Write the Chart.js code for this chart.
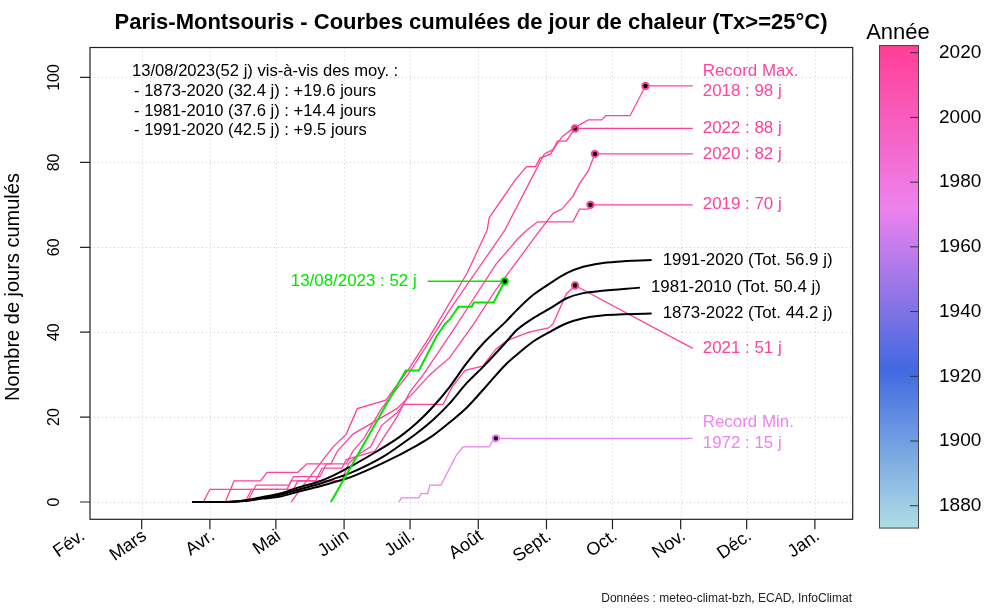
<!DOCTYPE html>
<html>
<head>
<meta charset="utf-8">
<script src="https://cdn.jsdelivr.net/npm/chart.js@4/dist/chart.umd.min.js"></script>
<style>
  body { margin: 0; background: #fff; }
  #wrap { width: 1000px; height: 611px; }
</style>
</head>
<body>
<div id="wrap"><canvas id="chart"></canvas></div>
<script>
// month starts as day of year (0 = 1 Jan)
var monthDays = [31, 59, 90, 120, 151, 181, 212, 243, 273, 304, 334, 365];
var monthLabels = ['Fév.', 'Mars', 'Avr.', 'Mai', 'Juin', 'Juil.', 'Août', 'Sept.', 'Oct.', 'Nov.', 'Déc.', 'Jan.'];
var yTicks = [0, 20, 40, 60, 80, 100];
var legendYears = [1880, 1900, 1920, 1940, 1960, 1980, 2000, 2020];

// cumulated hot days [day of year, count]
var year2018 = [[107,0],[111,4],[126,4],[128,6],[140,6],[143,9],[152,9],[155,12],[160,15],[168,22],[180,30],[190,38],[200,46],[212,55],[224,64],[232,72],[240,80],[242,82],[246,83],[250,86],[255,88],[262,90],[268,90],[270,91],[281,91],[288,98]];
var year2019 = [[106,0],[109,3],[125,3],[127,5],[138,5],[141,8],[150,8],[152,10],[165,12],[170,16],[175,20],[181,26],[187,30],[200,40],[210,48],[220,56],[230,62],[234,64],[239,66],[255,66],[258,69],[262,69],[263,70]];
var year2020 = [[97,0],[101,5],[113,5],[116,7],[130,7],[134,9],[145,9],[148,12],[155,16],[165,19],[175,22],[183,26],[190,30],[199,34],[210,42],[220,50],[230,57],[240,64],[246,68],[250,69],[255,72],[258,75],[262,78],[265,82]];
var year2021 = [[87,0],[90,3],[128,3],[130,5],[150,5],[153,9],[157,11],[163,13],[168,18],[175,21],[178,23],[196,23],[200,27],[206,31],[214,32],[220,36],[225,38],[235,40],[244,41],[246,42],[252,49],[254,50],[256,51]];
var year2022 = [[127,0],[131,3],[140,9],[146,13],[152,16],[157,22],[170,24],[180,31],[190,39],[207,54],[216,64],[217,67],[229,76],[234,79],[238,79],[240,81],[245,82],[248,85],[252,85],[256,88]];
var year1972 = [[176,0],[177,1],[185,1],[186,2],[189,2],[190,4],[195,4],[202,11],[205,13],[217,13],[218,14],[220,15]];
var year2023 = [[145,0],[179,31],[185,31],[191,37],[193,39],[197,42],[199,43],[203,46],[209,46],[210,47],[219,47],[224,52]];

// mean curves
var mean1991 = [[82,0],[97,0],[107,0.5],[114,1.2],[122,2.0],[130,3.4],[140,4.9],[146,6.2],[153.7,8.3],[165.8,11.9],[176.4,15.4],[184,18.6],[191.5,22.5],[199.1,27.2],[206.7,32.7],[214.3,37.4],[224.5,42.5],[229.5,45.2],[237,48.8],[244.6,51.5],[252.2,53.9],[259.7,55.4],[267.3,56.2],[274.9,56.6],[290.8,57.0]];
var mean1981 = [[82,0],[97,0],[107,0.4],[114,1.0],[122,1.7],[130,2.9],[140,4.3],[146,5.4],[153.7,6.8],[168.8,10.7],[177.9,13.9],[184,16.2],[191.5,19.4],[199.1,23.3],[206.7,28],[214.3,31.9],[224.5,37.6],[229.5,40.5],[237,43.3],[244.6,45.6],[252.2,48],[259.7,49.2],[267.3,49.7],[285.5,50.5]];
var mean1873 = [[82,0],[97,0],[107,0.3],[114,0.8],[122,1.3],[130,2.4],[140,3.7],[146,4.6],[153.7,5.8],[168.8,9.2],[184,13.3],[191.5,15.7],[199.1,18.8],[206.7,22.2],[214.3,26.5],[224.5,32.4],[229.5,34.7],[237,37.8],[244.6,40.1],[252.2,42.1],[259.7,43.3],[267.3,43.9],[290.8,44.4]];

var labelDay = 309.5;   // where the label leaders end

var colorStops = [[1873, [174, 222, 228]], [1922, [65, 105, 225]], [1972, [238, 130, 238]], [2023, [255, 62, 150]]];
function yearColor(yr) {
  for (var i = 1; i < colorStops.length; i++) {
    if (yr <= colorStops[i][0]) {
      var a = colorStops[i - 1], b = colorStops[i];
      var t = (yr - a[0]) / (b[0] - a[0]);
      var c = a[1].map(function (v, k) { return Math.round(v + (b[1][k] - v) * t); });
      return 'rgb(' + c.join(',') + ')';
    }
  }
  return 'rgb(255,62,150)';
}

var GREEN = 'rgb(0,230,0)';
var FONT = '"Liberation Sans", Arial, sans-serif';

function toXY(arr) { return arr.map(function (p) { return {x: p[0], y: p[1]}; }); }

function yearSet(arr, color, order) {
  var last = arr.length - 1;
  return {
    data: toXY(arr), borderColor: color, borderWidth: 1.3, order: order,
    pointRadius: function (c) { return c.dataIndex === last ? 3.2 : 0; },
    pointBackgroundColor: '#000', pointBorderColor: color, pointBorderWidth: 2
  };
}
function leader(arr, toY, color, order) {
  var p = arr[arr.length - 1];
  return {data: [{x: p[0], y: p[1]}, {x: labelDay, y: toY}], borderColor: color, borderWidth: 1.3, pointRadius: 0, order: order};
}
function meanSet(arr) {
  return {data: toXY(arr), borderColor: '#000', borderWidth: 2, pointRadius: 0, cubicInterpolationMode: 'monotone', order: 2};
}

var years = [[year2018, 2018], [year2019, 2019], [year2020, 2020], [year2021, 2021], [year2022, 2022], [year1972, 1972]];
var datasets = [];
years.forEach(function (y) {
  var col = yearColor(y[1]);
  datasets.push(yearSet(y[0], col, 5));
  datasets.push(leader(y[0], y[1] === 2021 ? 36.2 : y[0][y[0].length - 1][1], col, 5));
});
datasets.push(meanSet(mean1991), meanSet(mean1981), meanSet(mean1873));
var g = yearSet(year2023, GREEN, 1);
g.borderWidth = 2;
datasets.push(g);
datasets.push({data: [{x: 224, y: 52}, {x: 189, y: 52}], borderColor: GREEN, borderWidth: 1.5, pointRadius: 0, order: 1});

function txt(ctx, s, x, y, font, color, align) {
  ctx.font = font; ctx.fillStyle = color; ctx.textAlign = align || 'left'; ctx.textBaseline = 'middle';
  ctx.fillText(s, x, y);
}

var decor = {
  id: 'decor',
  beforeDatasetsDraw: function (chart) {
    var ctx = chart.ctx, a = chart.chartArea, x = chart.scales.x, y = chart.scales.y;
    ctx.save();
    ctx.strokeStyle = '#cccccc'; ctx.lineWidth = 1; ctx.setLineDash([1, 3]);
    monthDays.forEach(function (d) {
      var px = Math.round(x.getPixelForValue(d)) + 0.5;
      if (px <= a.left || px >= a.right) return;
      ctx.beginPath(); ctx.moveTo(px, a.top); ctx.lineTo(px, a.bottom); ctx.stroke();
    });
    yTicks.forEach(function (v) {
      var py = Math.round(y.getPixelForValue(v)) + 0.5;
      ctx.beginPath(); ctx.moveTo(a.left, py); ctx.lineTo(a.right, py); ctx.stroke();
    });
    ctx.restore();
  },
  afterDraw: function (chart) {
    var ctx = chart.ctx, a = chart.chartArea, x = chart.scales.x, y = chart.scales.y;
    ctx.save();
    // box and ticks
    ctx.strokeStyle = '#222'; ctx.lineWidth = 1.2;
    ctx.strokeRect(a.left, a.top, a.right - a.left, a.bottom - a.top);
    ctx.beginPath();
    monthDays.forEach(function (d) {
      var px = x.getPixelForValue(d);
      if (px < a.left || px > a.right) return;
      ctx.moveTo(px, a.bottom); ctx.lineTo(px, a.bottom + 10);
    });
    yTicks.forEach(function (v) {
      var py = y.getPixelForValue(v);
      ctx.moveTo(a.left, py); ctx.lineTo(a.left - 10, py);
    });
    ctx.stroke();

    // tick labels
    monthDays.forEach(function (d, i) {
      var px = x.getPixelForValue(d);
      ctx.save();
      ctx.translate(px + 3, a.bottom + 15);
      ctx.rotate(-35 * Math.PI / 180);
      txt(ctx, monthLabels[i], 0, 0, '18px ' + FONT, '#000', 'right');
      ctx.restore();
    });
    yTicks.forEach(function (v) {
      ctx.save();
      ctx.translate(55, y.getPixelForValue(v));
      ctx.rotate(-Math.PI / 2);
      txt(ctx, String(v), 0, 0, '16px ' + FONT, '#000', 'center');
      ctx.restore();
    });
    ctx.save();
    ctx.translate(13, 287);
    ctx.rotate(-Math.PI / 2);
    txt(ctx, 'Nombre de jours cumulés', 0, 0, '20px ' + FONT, '#000', 'center');
    ctx.restore();

    // title and source
    txt(ctx, 'Paris-Montsouris - Courbes cumulées de jour de chaleur (Tx>=25°C)', 471, 23, 'bold 22px ' + FONT, '#000', 'center');
    txt(ctx, 'Données : meteo-climat-bzh, ECAD, InfoClimat', 852, 599, '12px ' + FONT, '#222', 'right');

    // summary block
    var f = '16.6px ' + FONT;
    txt(ctx, '13/08/2023(52 j) vis-à-vis des moy. :', 132, 71, f, '#000');
    txt(ctx, '- 1873-2020 (32.4 j) : +19.6 jours', 134, 91, f, '#000');
    txt(ctx, '- 1981-2010 (37.6 j) : +14.4 jours', 134, 111, f, '#000');
    txt(ctx, '- 1991-2020 (42.5 j) : +9.5 jours', 134, 130, f, '#000');

    // labels at the end of the leaders
    var fl = '16.9px ' + FONT;
    var lx = x.getPixelForValue(labelDay) + 10;
    var pink = yearColor(2018);
    txt(ctx, 'Record Max.', lx, y.getPixelForValue(98) - 15, fl, pink);
    txt(ctx, '2018 : 98 j', lx, y.getPixelForValue(98) + 5, fl, pink);
    txt(ctx, '2022 : 88 j', lx, y.getPixelForValue(88), fl, yearColor(2022));
    txt(ctx, '2020 : 82 j', lx, y.getPixelForValue(82), fl, yearColor(2020));
    txt(ctx, '2019 : 70 j', lx, y.getPixelForValue(70), fl, yearColor(2019));
    txt(ctx, '2021 : 51 j', lx, y.getPixelForValue(36.2), fl, yearColor(2021));
    var vio = yearColor(1972);
    txt(ctx, 'Record Min.', lx, y.getPixelForValue(15) - 16, fl, vio);
    txt(ctx, '1972 : 15 j', lx, y.getPixelForValue(15) + 5, fl, vio);
    txt(ctx, '13/08/2023 : 52 j', x.getPixelForValue(189) - 11, y.getPixelForValue(52), fl, GREEN, 'right');
    [[mean1991, '1991-2020 (Tot. 56.9 j)'], [mean1981, '1981-2010 (Tot. 50.4 j)'], [mean1873, '1873-2022 (Tot. 44.2 j)']].forEach(function (m) {
      var p = m[0][m[0].length - 1];
      txt(ctx, m[1], x.getPixelForValue(p[0]) + 11, y.getPixelForValue(p[1]), fl, '#000');
    });

    // colour bar
    var cbL = 879, cbR = 918;
    function yrY(yr) { return 52.7 + (2020 - yr) * 3.236; }
    var top = yrY(2022.2), bot = yrY(1873.1);
    var grad = ctx.createLinearGradient(0, bot, 0, top);
    colorStops.forEach(function (s) {
      var t = Math.min(1, Math.max(0, (s[0] - 1873.1) / (2022.2 - 1873.1)));
      grad.addColorStop(t, 'rgb(' + s[1].join(',') + ')');
    });
    ctx.fillStyle = grad;
    ctx.fillRect(cbL, top, cbR - cbL, bot - top);
    ctx.strokeStyle = '#444'; ctx.lineWidth = 1;
    ctx.strokeRect(cbL + 0.5, top, cbR - cbL, bot - top);
    ctx.beginPath();
    legendYears.forEach(function (yr) {
      ctx.moveTo(cbR - 8, yrY(yr)); ctx.lineTo(cbR, yrY(yr));
    });
    ctx.strokeStyle = '#333'; ctx.stroke();
    legendYears.forEach(function (yr) {
      txt(ctx, String(yr), 939, yrY(yr), '19px ' + FONT, '#000');
    });
    txt(ctx, 'Année', 898, 33, '22px ' + FONT, '#000', 'center');
    ctx.restore();
  }
};

new Chart(document.getElementById('chart'), {
  type: 'line',
  data: {datasets: datasets},
  options: {
    responsive: true,
    maintainAspectRatio: false,
    animation: false,
    layout: {padding: {left: 90, top: 47.5, right: 147.3, bottom: 91.7}},
    plugins: {legend: {display: false}, tooltip: {enabled: false}},
    scales: {
      x: {type: 'linear', display: false, min: 35.5, max: 382.2},
      y: {type: 'linear', display: false, min: -4.07, max: 107.06}
    }
  },
  plugins: [decor]
});
</script>
</body>
</html>
